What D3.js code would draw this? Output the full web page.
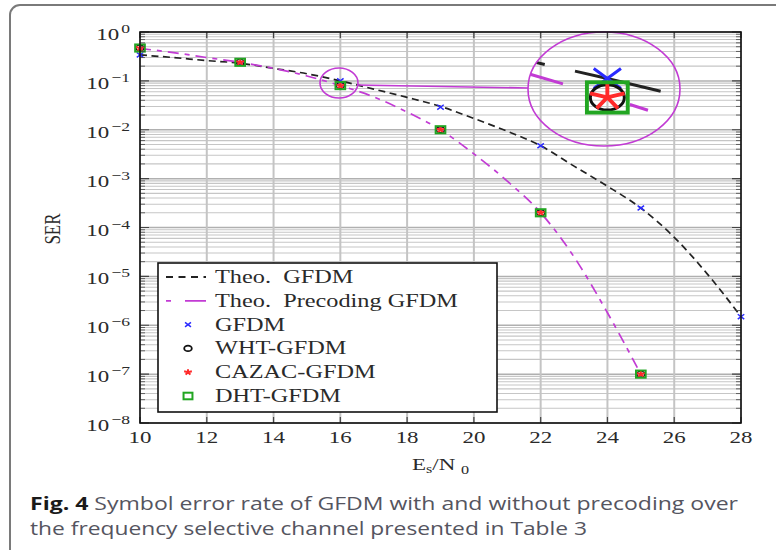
<!DOCTYPE html>
<html>
<head>
<meta charset="utf-8">
<script src="https://cdn.jsdelivr.net/npm/d3@7"></script>
<style>
  body { margin: 0; background: #fff; }
  svg { display: block; }
  text { white-space: pre; }
</style>
</head>
<body>
<svg id="chart" width="776" height="550" viewBox="0 0 776 550"></svg>
<script>
// values
const snrSim = [10, 13, 16, 19, 22, 25, 28];
const serGFDM = [0.34, 0.23, 0.1, 0.029, 0.0047, 2.5e-4, 1.5e-6];
const snrPre = [10, 13, 16, 19, 22, 25];
const serWHT = [0.47, 0.24, 0.08, 0.01, 2e-4, 1e-7];
const serCAZAC = [0.47, 0.24, 0.08, 0.01, 2e-4, 1e-7];
const serDHT = [0.47, 0.24, 0.08, 0.01, 2e-4, 1e-7];

const snrTheo = [10, 11, 12, 13, 14, 15, 16, 17, 18, 19, 20, 21, 22, 23, 24, 25, 26, 27, 28];
const theoGFDM = [0.34, 0.30, 0.26, 0.23, 0.18, 0.14, 0.1, 0.068, 0.046, 0.03, 0.017, 0.0093,
                  0.0047, 0.0018, 7e-4, 2.5e-4, 6.3e-5, 1.1e-5, 1.5e-6];
const snrTheoPre = [10, 11, 12, 13, 14, 15, 16, 17, 18, 19, 20, 21, 22, 23, 24, 25];
const theoPre = [0.46, 0.38, 0.30, 0.24, 0.18, 0.126, 0.08, 0.047, 0.023, 0.01, 3.2e-3, 8.9e-4,
                 2e-4, 2.5e-5, 1.8e-6, 1e-7];

const xTicks = [10, 12, 14, 16, 18, 20, 22, 24, 26, 28];
const yExponents = [0, -1, -2, -3, -4, -5, -6, -7, -8];
const legendLabels = ["Theo.  GFDM", "Theo.  Precoding GFDM", "GFDM", "WHT-GFDM", "CAZAC-GFDM", "DHT-GFDM"];
const captionBold = "Fig. 4";
const captionLines = [" Symbol error rate of GFDM with and without precoding over",
                      "the frequency selective channel presented in Table 3"];

const svg = d3.select("#chart");
const SX = 1.35; // the picture is stretched horizontally
const serif = "'Liberation Serif', 'Times New Roman', serif";
const cBlack = "#222", cMag = "#c23bd4", cBlue = "#2a2aff", cRed = "#ff2a2a", cGreen = "#22a622";

const x = d3.scaleLinear().domain([10, 28]).range([140, 741]);
const y = d3.scaleLog().domain([1e-8, 1]).range([423, 32]);

// outer frame of the figure
svg.append("rect")
  .attr("x", 10).attr("y", 5).attr("width", 800).attr("height", 570).attr("rx", 10)
  .attr("fill", "none").attr("stroke", "#7a7a7a").attr("stroke-width", 2);

// grid
const allY = y.ticks();
const isMajor = v => Math.abs(Math.log10(v) - Math.round(Math.log10(v))) < 1e-9;
const grid = svg.append("g");
grid.selectAll(".hminor").data(allY.filter(v => !isMajor(v))).enter().append("line")
  .attr("x1", x.range()[0]).attr("x2", x.range()[1])
  .attr("y1", d => y(d)).attr("y2", d => y(d))
  .attr("stroke", "#c6c6c6").attr("stroke-width", 1.1);
grid.selectAll(".hmajor").data(allY.filter(isMajor)).enter().append("line")
  .attr("x1", x.range()[0]).attr("x2", x.range()[1])
  .attr("y1", d => y(d)).attr("y2", d => y(d))
  .attr("stroke", "#b0b0b0").attr("stroke-width", 1.5);
grid.selectAll(".v").data(xTicks).enter().append("line")
  .attr("x1", d => x(d)).attr("x2", d => x(d))
  .attr("y1", y.range()[0]).attr("y2", y.range()[1])
  .attr("stroke", "#c4c4c4").attr("stroke-width", 2);

// marker shapes (sized in the stretched frame)
function xPath(s) { const hw = s * SX, hh = s; return `M${-hw},${-hh}L${hw},${hh}M${-hw},${hh}L${hw},${-hh}`; }
function starPath(s) {
  let p = "";
  for (let k = 0; k < 5; k++) {
    const a = (-90 + 72 * k) * Math.PI / 180;
    p += `M0,0L${(s * SX * Math.cos(a)).toFixed(2)},${(s * Math.sin(a)).toFixed(2)}`;
  }
  return p;
}

function drawSeries(g, xs, ys, k, lw, sw) {
  const line = d3.line().x(d => xs(d[0])).y(d => ys(d[1])).curve(d3.curveMonotoneX);
  const theo1 = g.append("path").datum(d3.zip(snrTheo, theoGFDM))
    .attr("d", line).attr("fill", "none").attr("stroke", cBlack).attr("stroke-width", lw);
  const theo2 = g.append("path").datum(d3.zip(snrTheoPre, theoPre))
    .attr("d", line).attr("fill", "none").attr("stroke", cMag).attr("stroke-width", lw);

  g.selectAll(".mx").data(d3.zip(snrSim, serGFDM)).enter().append("path")
    .attr("transform", d => `translate(${xs(d[0])},${ys(d[1])})`)
    .attr("d", xPath(2.4 * k)).attr("fill", "none").attr("stroke", cBlue).attr("stroke-width", sw);
  g.selectAll(".mo").data(d3.zip(snrPre, serWHT)).enter().append("ellipse")
    .attr("cx", d => xs(d[0])).attr("cy", d => ys(d[1]))
    .attr("rx", 3 * k * SX).attr("ry", 3 * k)
    .attr("fill", "none").attr("stroke", "#111").attr("stroke-width", sw);
  g.selectAll(".ms").data(d3.zip(snrPre, serCAZAC)).enter().append("path")
    .attr("transform", d => `translate(${xs(d[0])},${ys(d[1])})`)
    .attr("d", starPath(3.2 * k)).attr("fill", "none").attr("stroke", cRed).attr("stroke-width", sw * 1.3);
  g.selectAll(".mq").data(d3.zip(snrPre, serDHT)).enter().append("rect")
    .attr("x", d => xs(d[0]) - 3.6 * k * SX).attr("y", d => ys(d[1]) - 3.6 * k)
    .attr("width", 7.2 * k * SX).attr("height", 7.2 * k)
    .attr("fill", "none").attr("stroke", cGreen).attr("stroke-width", sw * 1.3);
  return [theo1, theo2];
}

// main curves
const main = svg.append("g");
const [mainTheo, mainPre] = drawSeries(main, x, y, 1, 1.7, 1.5);
mainTheo.attr("stroke-dasharray", "7,4.5");
mainPre.attr("stroke-dasharray", "11,6,5,6");

// zoom inset around the SNR = 16 dB point
const MAG = 4;
const small = { cx: 339, cy: 83, rx: 19, ry: 15 };
const big = { cx: 604, cy: 89, rx: 76, ry: 57 };
const inCx = 602, inCy = 87;
const xIn = d3.scaleLinear().domain(x.domain()).range(x.range().map(v => inCx + (v - small.cx) * MAG));
const yIn = d3.scaleLog().domain(y.domain()).range(y.range().map(v => inCy + (v - small.cy) * MAG));

svg.append("clipPath").attr("id", "zoomclip").append("ellipse")
  .attr("cx", big.cx).attr("cy", big.cy).attr("rx", big.rx).attr("ry", big.ry);
const inset = svg.append("g").attr("clip-path", "url(#zoomclip)");
const [inTheo, inPre] = drawSeries(inset, xIn, yIn, 4.2, 3, 3);

function lengthAtX(node, xt) {
  let lo = 0, hi = node.getTotalLength();
  for (let i = 0; i < 40; i++) {
    const mid = (lo + hi) / 2;
    if (node.getPointAtLength(mid).x < xt) lo = mid; else hi = mid;
  }
  return lo;
}
{
  const P = 88 + 31, L = lengthAtX(inTheo.node(), 575);
  inTheo.attr("stroke-dasharray", "88,31").attr("stroke-dashoffset", P - (L % P));
  const P2 = 40 + 70 + 19 + 60, L2 = lengthAtX(inPre.node(), 563);
  let d2 = 40 - (L2 % P2); if (d2 < 0) d2 += P2;
  inPre.attr("stroke-dasharray", "40,70,19,60").attr("stroke-dashoffset", d2);
}

const zoomMarks = svg.append("g").attr("fill", "none").attr("stroke", cMag).attr("stroke-width", 1.6);
zoomMarks.append("ellipse").attr("cx", small.cx).attr("cy", small.cy).attr("rx", small.rx).attr("ry", small.ry);
zoomMarks.append("ellipse").attr("cx", big.cx).attr("cy", big.cy).attr("rx", big.rx).attr("ry", big.ry);
zoomMarks.append("line")
  .attr("x1", small.cx + small.rx).attr("y1", small.cy + 2)
  .attr("x2", big.cx - big.rx).attr("y2", big.cy - 1);

// ticks inside the box
const ticks = svg.append("g").attr("stroke", "#444");
const [xl, xr] = x.range(), [yb, yt] = y.range();
ticks.selectAll(".yt").data(allY).enter().append("path")
  .attr("d", d => {
    const len = isMajor(d) ? 9 : 5, yy = y(d);
    return `M${xl},${yy}h${len}M${xr},${yy}h${-len}`;
  })
  .attr("stroke-width", d => isMajor(d) ? 1.2 : 0.8);
ticks.selectAll(".xt").data(xTicks).enter().append("path")
  .attr("d", d => `M${x(d)},${yb}v-6M${x(d)},${yt}v6`)
  .attr("stroke-width", 1.2);

// plot box
svg.append("rect")
  .attr("x", xl).attr("y", yt).attr("width", xr - xl).attr("height", yb - yt)
  .attr("fill", "none").attr("stroke", "#111").attr("stroke-width", 1.6);

// legend
const leg = svg.append("g");
leg.append("rect").attr("x", 158).attr("y", 263).attr("width", 339).attr("height", 149)
  .attr("fill", "#fff").attr("stroke", "#111").attr("stroke-width", 1.6);
const rowY = i => 277 + i * 23.8;
leg.append("line").attr("x1", 166).attr("x2", 206).attr("y1", rowY(0)).attr("y2", rowY(0))
  .attr("stroke", cBlack).attr("stroke-width", 1.8).attr("stroke-dasharray", "7,5.5");
leg.append("line").attr("x1", 166).attr("x2", 206).attr("y1", rowY(1)).attr("y2", rowY(1))
  .attr("stroke", cMag).attr("stroke-width", 1.8).attr("stroke-dasharray", "5,14,21,10");
const lx = 188;
leg.append("path").attr("transform", `translate(${lx},${rowY(2)})`).attr("d", xPath(2.2))
  .attr("fill", "none").attr("stroke", cBlue).attr("stroke-width", 1.5);
leg.append("ellipse").attr("cx", lx).attr("cy", rowY(3)).attr("rx", 2.8 * SX).attr("ry", 2.8)
  .attr("fill", "none").attr("stroke", "#111").attr("stroke-width", 1.8);
leg.append("path").attr("transform", `translate(${lx},${rowY(4)})`).attr("d", starPath(3))
  .attr("fill", "none").attr("stroke", cRed).attr("stroke-width", 2);
leg.append("rect").attr("x", lx - 3.3 * SX).attr("y", rowY(5) - 3.3).attr("width", 6.6 * SX).attr("height", 6.6)
  .attr("fill", "none").attr("stroke", cGreen).attr("stroke-width", 2);
leg.selectAll(".lt").data(legendLabels).enter().append("text")
  .attr("transform", (d, i) => `translate(215,${rowY(i) + 6}) scale(${SX},1)`)
  .attr("font-family", serif).attr("font-size", 18).attr("fill", "#2a2a2a")
  .text(d => d);

// y tick labels
const yl = svg.append("g").attr("font-family", serif).attr("fill", "#2a2a2a");
yExponents.forEach(e => {
  const t = yl.append("text")
    .attr("transform", `translate(130,${y(Math.pow(10, e)) + 8}) scale(${SX},1)`)
    .attr("text-anchor", "end").attr("font-size", 17);
  t.append("tspan").text("10");
  t.append("tspan").attr("dx", 1.5).attr("dy", -7).attr("font-size", 13)
    .text(e === 0 ? "0" : "\u2212" + Math.abs(e));
});

// x tick labels
svg.append("g").selectAll("text").data(xTicks).enter().append("text")
  .attr("transform", d => `translate(${x(d)},443) scale(${SX},1)`)
  .attr("text-anchor", "middle").attr("font-family", serif).attr("font-size", 17).attr("fill", "#2a2a2a")
  .text(d => d);

// axis titles
const xt = svg.append("text")
  .attr("transform", `translate(${(xl + xr) / 2},470) scale(${SX},1)`)
  .attr("text-anchor", "middle").attr("font-family", serif).attr("font-size", 17).attr("fill", "#2a2a2a");
xt.append("tspan").text("E");
xt.append("tspan").attr("font-size", 12).attr("dy", 3).text("s");
xt.append("tspan").attr("dy", -3).text("/N ");
xt.append("tspan").attr("font-size", 12).attr("dy", 4).text("0");

svg.append("text")
  .attr("transform", `translate(60,229) scale(${SX},1) rotate(-90)`)
  .attr("text-anchor", "middle").attr("font-family", serif).attr("font-size", 17).attr("fill", "#2a2a2a")
  .text("SER");

// caption
const cap = svg.append("g").attr("font-family", "'Open Sans', sans-serif").attr("font-size", 18).attr("fill", "#55555f");
const c1 = cap.append("text").attr("x", 30).attr("y", 510).attr("textLength", 708).attr("lengthAdjust", "spacingAndGlyphs");
c1.append("tspan").attr("font-weight", "bold").attr("fill", "#1a1a1a").text(captionBold);
c1.append("tspan").text(captionLines[0]);
cap.append("text").attr("x", 30).attr("y", 535).attr("textLength", 557).attr("lengthAdjust", "spacingAndGlyphs")
  .text(captionLines[1]);
</script>
</body>
</html>
